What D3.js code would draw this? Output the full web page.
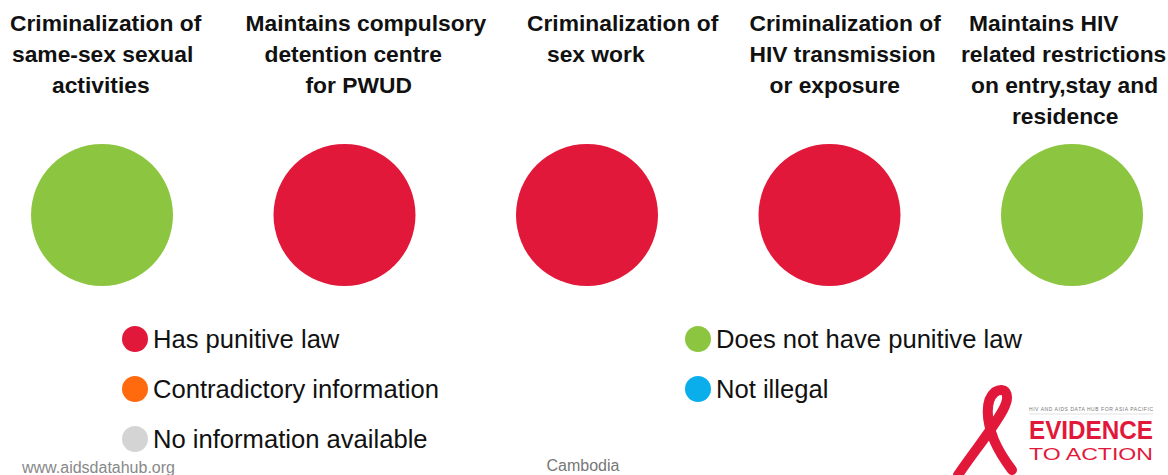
<!DOCTYPE html>
<html>
<head>
<meta charset="utf-8">
<script src="https://cdn.jsdelivr.net/npm/d3@7"></script>
<style>
  body { margin: 0; background: #fff; }
  svg { display: block; font-family: "Liberation Sans", Arial, sans-serif; }
</style>
</head>
<body>
<svg id="chart" width="1168" height="475"></svg>
<script>
// indicators (column titles, one array of lines per column)
const indicators = [
  ["Criminalization of", "same-sex sexual", "activities"],
  ["Maintains compulsory", "detention centre", "for PWUD"],
  ["Criminalization of", "sex work"],
  ["Criminalization of", "HIV transmission", "or exposure"],
  ["Maintains HIV", "related restrictions", "on entry,stay and", "residence"]
];
// status of each indicator for Cambodia
const statuses = ["none", "punitive", "punitive", "punitive", "none"];

// legend
const legendKeys = ["punitive", "contradictory", "noinfo", "none", "notillegal"];
const legendLabels = ["Has punitive law", "Contradictory information", "No information available",
                      "Does not have punitive law", "Not illegal"];
const legendColors = ["#e2183a", "#ff6a0e", "#d4d4d4", "#8cc540", "#0aaeea"];

const country = "Cambodia";
const source = "www.aidsdatahub.org";

const width = 1168, height = 475;
const svg = d3.select("#chart");

const color = d3.scaleOrdinal().domain(legendKeys).range(legendColors);

// columns
const x = d3.scalePoint()
  .domain(d3.range(indicators.length))
  .range([102, 1072]);

const circleY = 215, radius = 71;

// left edge of each title line, relative to the column centre
const lineOffset = [
  [-92, -90, -50],
  [-99, -80, -39],
  [-60, -40],
  [-80, -80, -60],
  [-103, -111, -101, -60]
];

indicators.forEach((lines, i) => {
  const t = svg.append("text")
    .attr("font-size", 22.8)
    .attr("font-weight", "bold")
    .attr("fill", "#111");
  lines.forEach((ln, j) => {
    t.append("tspan")
      .attr("x", x(i) + lineOffset[i][j])
      .attr("y", 31 + j * 31)
      .text(ln);
  });
});

svg.selectAll("circle.status")
  .data(statuses)
  .join("circle")
  .attr("class", "status")
  .attr("cx", (d, i) => x(i))
  .attr("cy", circleY)
  .attr("r", radius)
  .attr("fill", d => color(d));

// legend: two columns, three rows
const legendCol = d3.scaleOrdinal().domain([0, 1]).range([135, 698]);
const legendRow = d3.scaleLinear().domain([0, 2]).range([339, 439]);

const lg = svg.selectAll("g.legend")
  .data(legendKeys)
  .join("g")
  .attr("class", "legend")
  .attr("transform", (d, i) => {
    const col = i < 3 ? 0 : 1, row = i < 3 ? i : i - 3;
    return `translate(${legendCol(col)},${legendRow(row)})`;
  });

lg.append("circle")
  .attr("r", 13)
  .attr("fill", d => color(d));

lg.append("text")
  .attr("x", 18)
  .attr("y", 9)
  .attr("font-size", 25.6)
  .attr("fill", "#111")
  .text((d, i) => legendLabels[i]);

// footer
svg.append("text")
  .attr("x", 22).attr("y", 473)
  .attr("font-size", 16).attr("fill", "#888")
  .text(source);

svg.append("text")
  .attr("x", 583).attr("y", 471)
  .attr("text-anchor", "middle")
  .attr("font-size", 16).attr("fill", "#777")
  .text(country);

// logo
const logo = svg.append("g");
logo.append("path")
  .attr("d", "M958,475 C975,450 992,430 1003,410 C1012,393 1004,386 995,392 C985,400 986,420 994,440 C999,452 1006,462 1012,470")
  .attr("fill", "none")
  .attr("stroke", "#e2183a")
  .attr("stroke-width", 10)
  .attr("stroke-linecap", "round");
logo.append("text")
  .attr("x", 1029).attr("y", 411)
  .attr("font-size", 5).attr("fill", "#777")
  .attr("textLength", 124)
  .text("HIV AND AIDS DATA HUB FOR ASIA PACIFIC");
logo.append("line")
  .attr("x1", 1029).attr("x2", 1153)
  .attr("y1", 414).attr("y2", 414)
  .attr("stroke", "#ccc").attr("stroke-width", 0.6);
logo.append("text")
  .attr("x", 1029).attr("y", 439)
  .attr("font-size", 25).attr("font-weight", "bold")
  .attr("fill", "#e2183a")
  .attr("textLength", 124).attr("lengthAdjust", "spacingAndGlyphs")
  .text("EVIDENCE");
logo.append("text")
  .attr("x", 1029).attr("y", 460)
  .attr("font-size", 17)
  .attr("fill", "#e2183a")
  .attr("textLength", 124).attr("lengthAdjust", "spacingAndGlyphs")
  .text("TO ACTION");
</script>
</body>
</html>
